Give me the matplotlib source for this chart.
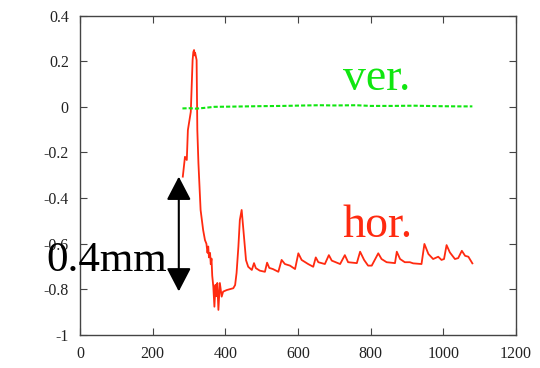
import numpy as np
import matplotlib
matplotlib.use("Agg")
import matplotlib.pyplot as plt

plt.rcParams['font.family'] = ['Liberation Serif', 'DejaVu Serif']

# horizontal displacement (red)
hor_x = [283, 289, 294, 297, 305, 310, 312, 314, 316, 317, 321, 323, 326, 332,
         339, 344, 348, 351, 353, 355, 358, 360, 362, 364, 367, 370, 373, 375,
         378, 381, 385, 390, 394, 404, 422, 427, 431, 436, 440, 445, 449, 457,
         463, 473, 479, 484, 495, 509, 515, 521, 531, 546, 555, 564, 578, 592,
         601, 610, 628, 642, 649, 656, 674, 685, 693, 716, 729, 738, 762, 771,
         782, 793, 803, 821, 830, 844, 867, 872, 881, 894, 908, 917, 940, 948,
         959, 972, 986, 995, 1002, 1009, 1018, 1032, 1041, 1051, 1060, 1069, 1080]
hor_y = [-0.306, -0.219, -0.233, -0.102, -0.022, 0.205, 0.240, 0.249, 0.225,
         0.236, 0.205, -0.102, -0.246, -0.452, -0.540, -0.584, -0.600, -0.640,
         -0.612, -0.660, -0.640, -0.690, -0.665, -0.740, -0.788, -0.876, -0.780,
         -0.830, -0.772, -0.890, -0.772, -0.832, -0.810, -0.803, -0.795, -0.781,
         -0.728, -0.613, -0.496, -0.452, -0.525, -0.672, -0.701, -0.715, -0.685,
         -0.707, -0.718, -0.723, -0.683, -0.706, -0.711, -0.723, -0.671, -0.689,
         -0.696, -0.711, -0.642, -0.671, -0.689, -0.701, -0.660, -0.681, -0.689,
         -0.650, -0.674, -0.689, -0.650, -0.681, -0.685, -0.635, -0.671, -0.696,
         -0.696, -0.642, -0.667, -0.681, -0.685, -0.635, -0.667, -0.681, -0.681,
         -0.686, -0.689, -0.601, -0.645, -0.667, -0.657, -0.671, -0.667, -0.606,
         -0.638, -0.667, -0.663, -0.631, -0.653, -0.657, -0.686]

# vertical displacement (green)
ver_x = [282, 300, 320, 340, 370, 420, 500, 560, 620, 660, 700, 760, 800, 860,
         920, 980, 1040, 1080]
ver_y = [-0.007, -0.006, -0.008, -0.005, 0.0, 0.001, 0.003, 0.004, 0.006,
         0.007, 0.006, 0.007, 0.004, 0.004, 0.005, 0.003, 0.002, 0.002]

xticks = [0, 200, 400, 600, 800, 1000, 1200]
yticks = [0.4, 0.2, 0, -0.2, -0.4, -0.6, -0.8, -1]
ylabels = ["0.4", "0.2", "0", "-0.2", "-0.4", "-0.6", "-0.8", "-1"]

fig = plt.figure(figsize=(5.4, 3.68), dpi=100)
ax = fig.add_axes([0.1481, 0.0897, 0.8074, 0.868])

ax.plot(hor_x, hor_y, color="#ff2a10", lw=1.3)
ax.plot(ver_x, ver_y, color="#10e610", lw=1.5, linestyle=(0, (2, 1)))

ax.set_xlim(0, 1200)
ax.set_ylim(-1, 0.4)
ax.set_xticks(xticks)
ax.set_yticks(yticks)
ax.set_yticklabels(ylabels)
ax.tick_params(direction="in", length=5, top=True, right=True,
               labelsize=11.5, labelcolor="#222222", color="#444444")
ax.tick_params(axis="x", pad=8)
ax.tick_params(axis="y", pad=8)
for s in ax.spines.values():
    s.set_color("#444444")
    s.set_linewidth(1.0)

ax.text(817, 0.074, "ver.", color="#10e610", fontsize=33, ha="center", va="baseline")
ax.text(820, -0.572, "hor.", color="#ff2a10", fontsize=33, ha="center", va="baseline")
ax.text(-92, -0.720, "0.4mm", color="black", fontsize=31, ha="left", va="baseline")

ax.annotate("", xy=(272, -0.306), xytext=(272, -0.809),
            arrowprops=dict(arrowstyle="<|-|>,head_length=1.44,head_width=0.75",
                            color="black", lw=1.5, shrinkA=0, shrinkB=0,
                            mutation_scale=10))

fig.savefig("out.png", dpi=100)
